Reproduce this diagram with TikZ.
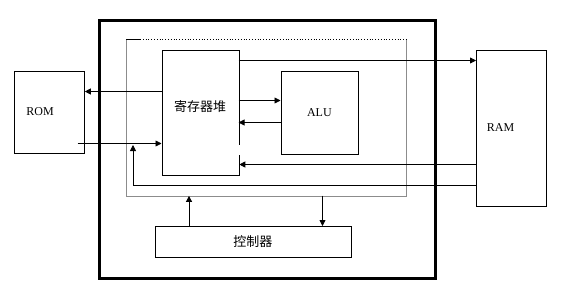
\documentclass[tikz,border=0pt]{standalone}
\usepackage{fontspec}
\setmainfont{Liberation Serif}
\newfontfamily\cjk{Noto Sans CJK SC}
\usetikzlibrary{arrows.meta,positioning,calc}
\definecolor{busgray}{HTML}{8C8C8C}

\begin{document}
\begin{tikzpicture}[x=1pt,y=-1pt]

  % Styles
  \tikzset{
    every node/.style={font=\fontsize{12}{14}\selectfont},
    unit/.style={draw, line width=0.8pt, anchor=north west, inner sep=0pt},
    cjklabel/.style={font=\cjk\fontsize{13}{14}\selectfont},
    arr/.style={line width=0.8pt, -{Triangle[length=6pt,width=6pt]}}
  }

  \useasboundingbox (0,0) rectangle (564,289);

  % CPU frame
  \node[draw, line width=3pt, anchor=north west, minimum width=336pt, minimum height=258pt] (cpu) at (98,19) {};

  % Internal bus
  \node[anchor=north west, minimum width=280pt, minimum height=156pt, inner sep=0pt] (bus) at (126,39.5) {};
  \draw[busgray, line width=0.8pt] (bus.north west) -- (bus.south west) -- (bus.south east) -- (bus.north east);
  \draw[line width=0.8pt] (bus.north west) -- ++(14,0) coordinate (busdot);
  \draw[line width=0.8pt, dotted] (busdot) -- (bus.north east);

  % Units
  \node[unit, minimum width=70pt, minimum height=82pt, text width=46pt, inner xsep=12pt, align=left] (rom) at (14,70.5) {ROM\\[8pt]};
  \node[unit, minimum width=70pt, minimum height=156pt, text width=49pt, inner xsep=10.5pt, align=left] (ram) at (476,49.5) {RAM};
  \node[unit, minimum width=77pt, minimum height=125pt] (reg) at (161.5,49.5) {};
  \node[cjklabel] (reglabel) at (200,107) {寄存器堆};
  \node[unit, minimum width=77pt, minimum height=83pt] (alu) at (280.5,70.5) {ALU};
  \node[unit, minimum width=196pt, minimum height=31pt, cjklabel] (ctrl) at (154.5,226) {控制器};

  % gap in the register file's right edge
  \fill[white] (237,144.5) rectangle (240,155);

  % Connector ends
  \coordinate (toalu) at (238.5,100.5);
  \coordinate (fromalu) at (238.5,122.5);
  \coordinate (torom) at (161.5,91.5);
  \coordinate (fromrom) at (77.5,143.5);
  \coordinate (toram) at (238.5,60.5);
  \coordinate (fromram) at (476,164.5);
  \coordinate (ramback) at (476,185.5);
  \coordinate (busin) at (133,145);
  \coordinate (ctrlup) at (189,226);
  \coordinate (ctrldown) at (322.5,195.5);

  % Register file <-> ALU
  \draw[arr] (toalu) -- (toalu -| alu.west);
  \draw[arr] (fromalu -| alu.west) -- (fromalu);

  % ROM connections
  \draw[arr] (torom) -- (torom -| rom.east);
  \draw[arr] (fromrom) -- (fromrom -| reg.west);

  % RAM connections
  \draw[arr] (toram) -- (toram -| ram.west);
  \draw[arr] (fromram) -- (fromram -| reg.east);
  \draw[arr] (ramback) -| (busin);

  % Controller <-> bus
  \draw[arr] (ctrlup) -- (ctrlup |- bus.south);
  \draw[arr] (ctrldown) -- (ctrldown |- ctrl.north);

\end{tikzpicture}
\end{document}
